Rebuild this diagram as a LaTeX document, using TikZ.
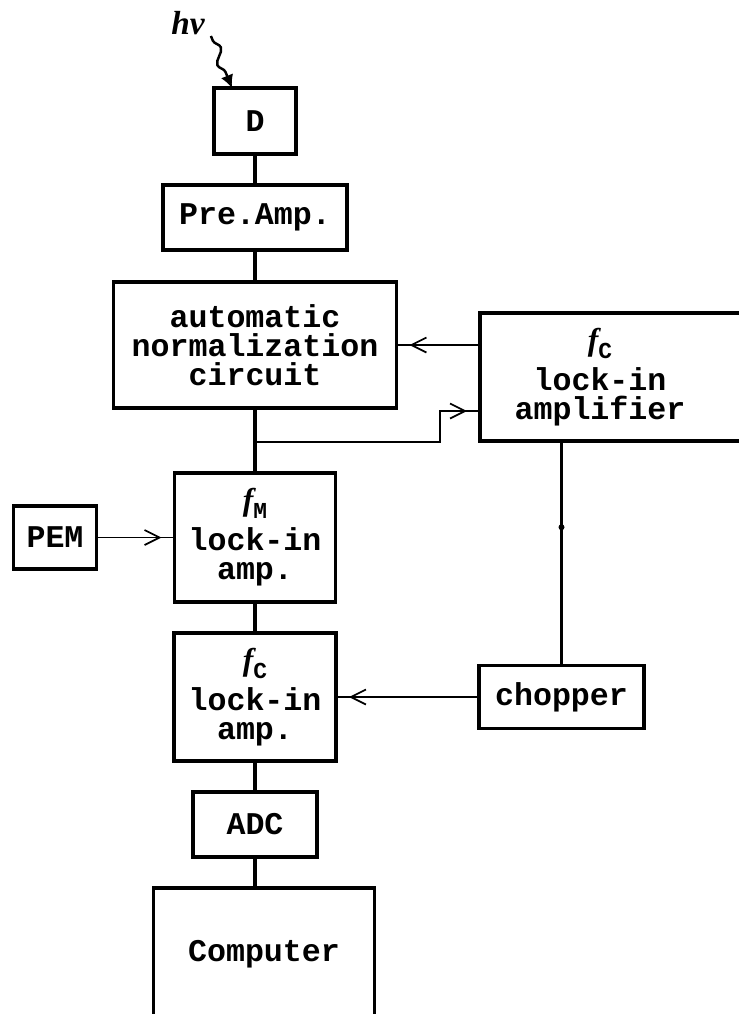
\documentclass[tikz,border=0pt]{standalone}
\usepackage{fontspec}
\setmainfont{Liberation Mono}
\newfontfamily\serifsym{Liberation Serif}
\usetikzlibrary{arrows.meta, positioning, fit, decorations.pathmorphing, decorations.markings}

\newcommand{\fsub}[1]{{\serifsym\bfseries\itshape f}\smash{\raisebox{-0.25em}{\fontsize{13}{13}\selectfont #1}}}

\begin{document}
\begin{tikzpicture}[
node distance=6.2mm and 15.6mm,
font=\fontsize{18}{16.5}\selectfont\bfseries,
block/.style={
rectangle,
draw, line width=1.8pt,
align=center,
inner sep=0pt, outer sep=0pt
},
link/.style={line width=2pt},
feed/.style={
line width=1pt,
postaction={decorate},
decoration={markings,
mark=at position -2.6mm with {\arrow{Straight Barb[length=3mm,width=3mm,line width=1pt]}}}
},
photon/.style={
line width=1.4pt,
decorate,
decoration={snake, amplitude=1mm, segment length=6mm, pre length=1mm, post length=3mm},
-{Latex[length=2.6mm,width=2.6mm]}
},
dot/.style={circle, fill, inner sep=0pt, minimum size=1.2mm}
]

\useasboundingbox (0,0) rectangle (147.8mm,-202.8mm);

% main signal chain
\node[block, minimum width=16.4mm, minimum height=13.2mm] (det) at (51mm,-24.2mm) {D};

\node[block, below=of det, minimum width=36.8mm, minimum height=13mm] (preamp) {Pre.Amp.};

\node[block, below=6.4mm of preamp, minimum width=56.6mm, minimum height=25.2mm] (norm)
{automatic\\normalization\\circuit};

\node[block, below=13mm of norm, minimum width=32.2mm, minimum height=25.8mm] (lockM)
{\fsub{M}\\[5pt]lock-in\\amp.};

\node[block, below=of lockM, minimum width=32.4mm, minimum height=25.6mm] (lockC)
{\fsub{C}\\[5pt]lock-in\\amp.};

\node[block, below=of lockC, minimum width=24.8mm, minimum height=13mm] (adc) {ADC};

\node[block, below=of adc, xshift=1.8mm, minimum width=44.2mm, minimum height=26.4mm] (computer)
{Computer};

% side units
\node[block, left=of lockM, minimum width=16.6mm, minimum height=12.6mm] (pem) {PEM};

\node[block, right=28.6mm of lockC, minimum width=33mm, minimum height=12.6mm] (chopper) {chopper};

\node[block, fit={(96mm,-62.6mm) (152mm,-88.2mm)}] (lockamp) {};
\node[align=center] (lockText) at (120mm,-75.4mm) {\fsub{C}\\[5pt]lock-in\\amplifier};

% light input
\node (photonLabel) at (37.6mm,-4.6mm) {\fontsize{19}{19}\selectfont\serifsym\bfseries\itshape hν};
\draw[photon] ([yshift=1mm]photonLabel.south east) -- ([xshift=3.6mm]det.north west);

\draw[link] (det) -- (preamp);
\draw[link] (preamp) -- (norm);
\draw[link] (norm) -- (lockM);
\draw[link] (lockM) -- (lockC);
\draw[link] (lockC) -- (adc);
\draw[link] (adc) -- (adc |- computer.north);

\coordinate[below=6.8mm of norm.south] (tap);
\coordinate (jog) at (88mm,-82.2mm);
\draw[feed] (tap) -| (jog) -- (jog -| lockamp.west);

\draw[feed] (lockamp.west |- norm.east) -- (norm.east);

\draw[feed] (pem) -- (lockM);

\draw[feed] (chopper) -- (lockC);

\draw[link] (chopper.north) -- node[dot, pos=0.616] (junction) {} (chopper.north |- lockamp.south);

\end{tikzpicture}
\end{document}
